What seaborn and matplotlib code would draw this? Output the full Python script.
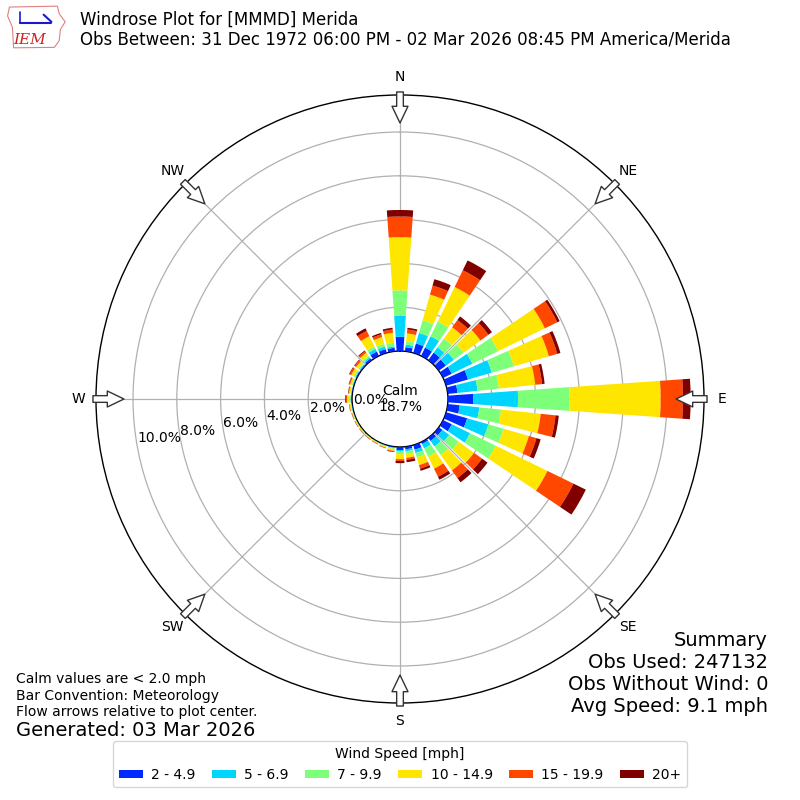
import numpy as np
import matplotlib
matplotlib.use("Agg")
import matplotlib.pyplot as plt
import seaborn as sns
from matplotlib.patches import Patch, Polygon

# ---------------- data ----------------
directions = [0, 10, 20, 30, 40, 50, 60, 70, 80, 90, 100, 110, 120, 130, 140, 150, 160, 170,
              180, 190, 200, 210, 220, 230, 240, 250, 260, 270, 280, 290, 300, 310, 320, 330, 340, 350]
spd_2_5 = [0.65, 0.19, 0.45, 0.42, 0.43, 0.40, 0.44, 1.04, 0.45, 1.15, 0.55, 1.00, 0.44, 0.20, 0.18, 0.10, 0.22, 0.12,
           0.14, 0.04, 0.02, 0.02, 0.02, 0.02, 0.02, 0.02, 0.02, 0.04, 0.03, 0.03, 0.05, 0.05, 0.10, 0.22, 0.18, 0.16]
spd_5_7 = [0.97, 0.12, 0.50, 0.58, 0.30, 0.45, 1.05, 1.13, 0.92, 2.05, 0.90, 1.00, 0.93, 0.39, 0.31, 0.22, 0.16, 0.09,
           0.07, 0.03, 0.02, 0.01, 0.01, 0.01, 0.01, 0.01, 0.02, 0.03, 0.02, 0.03, 0.04, 0.04, 0.07, 0.14, 0.12, 0.07]
spd_7_10 = [1.15, 0.15, 0.60, 0.75, 0.49, 0.55, 1.31, 1.05, 0.98, 2.35, 1.00, 0.73, 1.30, 0.54, 0.48, 0.42, 0.20, 0.12,
            0.12, 0.04, 0.03, 0.02, 0.02, 0.02, 0.02, 0.02, 0.03, 0.05, 0.03, 0.04, 0.06, 0.06, 0.08, 0.12, 0.13, 0.16]
spd_10_15 = [2.43, 0.36, 1.22, 1.75, 0.64, 0.95, 2.37, 1.66, 1.67, 4.16, 1.82, 1.20, 2.63, 0.86, 0.87, 0.61, 0.37, 0.18,
             0.23, 0.08, 0.05, 0.04, 0.04, 0.04, 0.04, 0.04, 0.05, 0.11, 0.07, 0.08, 0.14, 0.14, 0.17, 0.52, 0.32, 0.46]
spd_15_20 = [0.94, 0.18, 0.43, 0.85, 0.41, 0.45, 0.63, 0.40, 0.31, 1.02, 0.68, 0.36, 1.32, 0.45, 0.43, 0.41, 0.17, 0.09,
             0.08, 0.04, 0.02, 0.02, 0.02, 0.02, 0.02, 0.02, 0.02, 0.06, 0.03, 0.05, 0.08, 0.08, 0.09, 0.27, 0.13, 0.15]
spd_20p = [0.30, 0.08, 0.30, 0.50, 0.20, 0.20, 0.12, 0.15, 0.12, 0.35, 0.15, 0.20, 0.63, 0.31, 0.24, 0.15, 0.10, 0.11,
           0.10, 0.02, 0.01, 0.01, 0.01, 0.01, 0.01, 0.01, 0.01, 0.03, 0.02, 0.02, 0.03, 0.03, 0.04, 0.13, 0.07, 0.08]
speed_labels = ["2 - 4.9", "5 - 6.9", "7 - 9.9", "10 - 14.9", "15 - 19.9", "20+"]
ring_ticks = [0, 2, 4, 6, 8, 10]
compass_angles = [0, 45, 90, 135, 180, 225, 270, 315]
compass_labels = ["N", "NE", "E", "SE", "S", "SW", "W", "NW"]
calm_pct = 18.7

# ---------------- style ----------------
sns.set_theme(style="white")
plt.rcParams['font.family'] = ['DejaVu Sans']
for key in ['text.color', 'axes.labelcolor', 'xtick.color', 'ytick.color']:
    plt.rcParams[key] = 'black'

series = [spd_2_5, spd_5_7, spd_7_10, spd_10_15, spd_15_20, spd_20p]
colors = [plt.get_cmap('jet')(v) for v in np.linspace(0, 1, 7)[1:]]

fig = plt.figure(figsize=(8, 8), dpi=100)
ax = fig.add_axes([0.12, 0.12125, 0.76, 0.76], projection='polar')
ax.set_theta_zero_location('N')
ax.set_theta_direction(-1)

theta = np.deg2rad(directions)
width = np.deg2rad(8)
bottom = np.zeros(len(directions))
for vals, col in zip(series, colors):
    vals = np.array(vals)
    ax.bar(theta, vals, width=width, bottom=bottom, color=col, edgecolor='none',
           linewidth=0, zorder=3)
    bottom += vals

rmax = 11.69
rorig = -2.19
ax.set_rorigin(rorig)
ax.set_ylim(0, rmax)

ax.set_thetagrids(compass_angles, labels=compass_labels, fontsize=10, color='black')
ax.tick_params(axis='x', pad=0)
ax.set_rgrids(ring_ticks, labels=[''] * len(ring_ticks))
ax.grid(True, color='#b0b0b0', linewidth=0.9, zorder=1)
ax.set_facecolor('white')
for name, sp in ax.spines.items():
    sp.set_color('black')
    sp.set_linewidth(1.0)

# ring labels
for r in ring_ticks:
    ax.text(np.deg2rad(260), r, f"{r:.1f}%", ha='left', va='bottom', fontsize=10, zorder=5,
            color='black')

# calm text
ax.text(0, rorig, f"Calm\n{calm_pct:.1f}%", ha='center', va='center', fontsize=10,
        linespacing=1.2, zorder=6, color='black')

# compass arrows (pointing toward center)
r_out = rorig + 307 / 21.9
r_in = rorig + 276 / 21.9
for a in compass_angles:
    ax.annotate("", xy=(np.deg2rad(a), r_in), xytext=(np.deg2rad(a), r_out),
                arrowprops=dict(arrowstyle="simple,head_length=1.2,head_width=1.15,tail_width=0.48",
                                fc='white', ec='#333333', lw=1.0, shrinkA=0, shrinkB=0,
                                mutation_scale=10),
                annotation_clip=False, zorder=7)

# titles
fig.text(0.1, 1 - 20 / 800, "Windrose Plot for [MMMD] Merida", fontsize=12, va='center', ha='left')
fig.text(0.1, 1 - 39 / 800, "Obs Between: 31 Dec 1972 06:00 PM - 02 Mar 2026 08:45 PM America/Merida",
         fontsize=12, va='center', ha='left')

# logo (approximation)
lax = fig.add_axes([0.008, 0.938, 0.075, 0.056])
lax.set_xlim(0, 1)
lax.set_ylim(0, 1)
lax.axis('off')
iowa = [(0.05, 0.95), (0.85, 0.97), (0.88, 0.8), (0.98, 0.62), (0.9, 0.45), (0.88, 0.2),
        (0.8, 0.05), (0.12, 0.04), (0.1, 0.5), (0.02, 0.75)]
lax.add_patch(Polygon(iowa, closed=True, fill=False, ec='#e08080', lw=0.8))
lax.plot([0.22, 0.75], [0.6, 0.6], color='#1a1acc', lw=1.5)
lax.plot([0.22, 0.22], [0.6, 0.85], color='#1a1acc', lw=1.2)
lax.plot([0.62, 0.75], [0.78, 0.62], color='#1a1acc', lw=1.5)
lax.text(0.12, 0.22, "IEM", color='#cc2222', fontsize=11, style='italic', family='DejaVu Serif',
         va='center', ha='left')

# footer texts
fig.text(16 / 800, 1 - 679 / 800, "Calm values are < 2.0 mph", fontsize=10, va='center')
fig.text(16 / 800, 1 - 696 / 800, "Bar Convention: Meteorology", fontsize=10, va='center')
fig.text(16 / 800, 1 - 712 / 800, "Flow arrows relative to plot center.", fontsize=10, va='center')
fig.text(16 / 800, 1 - 730 / 800, "Generated: 03 Mar 2026", fontsize=14, va='center')

fig.text(768 / 800, 1 - 640 / 800, "Summary", fontsize=14, va='center', ha='right')
fig.text(768 / 800, 1 - 662 / 800, "Obs Used: 247132", fontsize=14, va='center', ha='right')
fig.text(768 / 800, 1 - 684 / 800, "Obs Without Wind: 0", fontsize=14, va='center', ha='right')
fig.text(768 / 800, 1 - 706 / 800, "Avg Speed: 9.1 mph", fontsize=14, va='center', ha='right')

handles = [Patch(facecolor=c, edgecolor='none') for c in colors]
fig.legend(handles, speed_labels, title="Wind Speed [mph]", loc='lower center',
           bbox_to_anchor=(0.5, 0.007), ncol=6, fontsize=10, title_fontsize=10,
           frameon=True, edgecolor='#cccccc', handlelength=1.75, handleheight=0.6,
           handletextpad=0.6, columnspacing=1.15)

fig.savefig("out.png", dpi=100, facecolor='white')
